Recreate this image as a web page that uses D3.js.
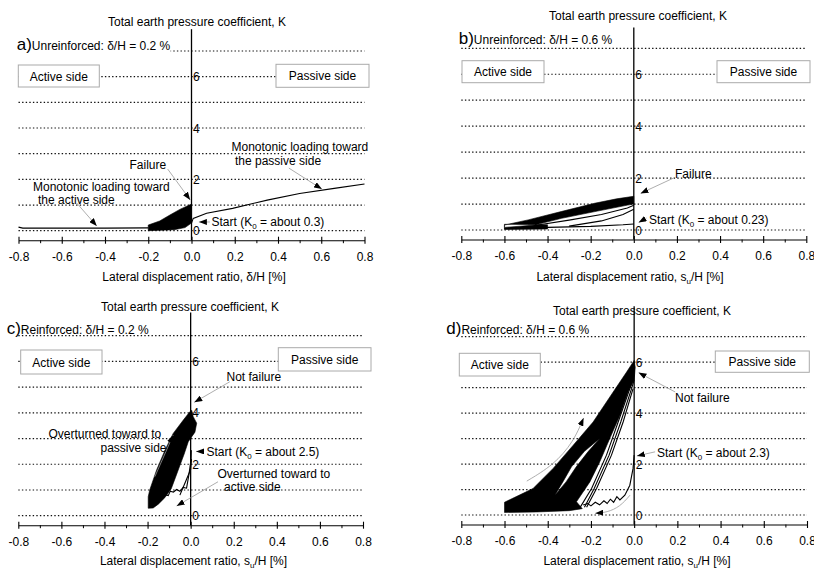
<!DOCTYPE html>
<html>
<head>
<meta charset="utf-8">
<script src="https://cdn.jsdelivr.net/npm/d3@7"></script>
<style>
  body { margin: 0; background: #fff; }
  svg { display: block; font-family: "Liberation Sans", Arial, sans-serif; }
</style>
</head>
<body>
<svg id="chart" width="814" height="569"></svg>
<script>
// axis values
const xTicks = [-0.8, -0.6, -0.4, -0.2, 0, 0.2, 0.4, 0.6, 0.8];
const xMinorTicks = [-0.7, -0.5, -0.3, -0.1, 0.1, 0.3, 0.5, 0.7];
const kGrid = [0, 1, 2, 3, 4, 5, 6, 7];
const kLabels = [0, 2, 4, 6];
const yTitleText = 'Total earth pressure coefficient, K';
const panelLetters = ['a)', 'b)', 'c)', 'd)'];
const panelNames = ['Unreinforced: δ/H = 0.2 %', 'Unreinforced: δ/H = 0.6 %', 'Reinforced: δ/H = 0.2 %', 'Reinforced: δ/H = 0.6 %'];
const xTitles = ['Lateral displacement ratio, δ/H [%]', 'Lateral displacement ratio, s_u/H [%]', 'Lateral displacement ratio, s_u/H [%]', 'Lateral displacement ratio, s_u/H [%]'];

// a) unreinforced 0.2 %  [displacement ratio, K]
const aActiveMono = [[-0.8, 0.14], [-0.78, 0.1], [-0.6, 0.1], [-0.4, 0.1], [-0.2, 0.11]];
const aPassiveMono = [[0, 0.3], [0.008, 0.48], [0.07, 0.68], [0.19, 0.87], [0.35, 1.19], [0.5, 1.45], [0.66, 1.65], [0.8, 1.82]];
const aBand = [[-0.2, 0.22], [-0.147, 0.38], [-0.1, 0.61], [-0.054, 0.83], [0, 1.04], [0, 0.3], [-0.03, 0.12], [-0.08, 0.04], [-0.2, 0.0]];

// b) unreinforced 0.6 %
const bBand = [[-0.6, 0.19], [-0.49, 0.39], [-0.337, 0.71], [-0.182, 1.03], [-0.08, 1.2], [0, 1.3],
  [0, 1.0], [-0.028, 0.96], [-0.18, 0.71], [-0.335, 0.45], [-0.46, 0.19], [-0.6, 0.1]];
const bStrip = [[-0.6, 0.02], [-0.4, 0.04], [-0.4, 0.2], [-0.6, 0.22]];
const bLoop1 = [[-0.445, 0.19], [-0.3, 0.38], [-0.15, 0.6], [-0.03, 0.85], [0, 0.95]];
const bLoop2 = [[-0.3, 0.15], [-0.15, 0.35], [-0.05, 0.6], [0, 0.8]];
const bStart = [[0, 0.23], [-0.05, 0.2], [-0.2, 0.14], [-0.4, 0.1], [-0.6, 0.06]];

// c) reinforced 0.2 %
const cBand = [[-0.197, 0.29], [-0.197, 0.74], [-0.19, 1.0], [-0.158, 1.78], [-0.119, 2.55], [-0.081, 3.2], [-0.034, 3.72], [-0.003, 4.05], [0.005, 4.1],
  [0.012, 3.85], [0.028, 3.6], [0.02, 3.25], [-0.011, 2.88], [-0.03, 2.4], [-0.05, 1.95], [-0.07, 1.5], [-0.09, 1.05], [-0.12, 0.7], [-0.15, 0.45], [-0.174, 0.3]];
const cStart = [[0.003, 2.55], [0.002, 2.2], [-0.008, 1.6], [-0.019, 1.07], [-0.035, 1.1], [-0.05, 0.95], [-0.065, 1.02], [-0.08, 0.92], [-0.095, 0.95],
  [-0.104, 0.78], [-0.12, 0.82], [-0.135, 0.66], [-0.15, 0.7], [-0.165, 0.5], [-0.19, 0.35]];
const cLoop = [[0.004, 2.2], [0, 1.8], [-0.02, 1.4], [-0.035, 1.1], [-0.05, 0.8]];

// d) reinforced 0.6 %
const dBand = [[-0.6, 0.5], [-0.468, 1.04], [-0.375, 1.83], [-0.282, 2.74], [-0.19, 3.65], [-0.097, 4.83], [-0.035, 5.61], [0, 6.07],
  [0.005, 5.8], [0, 5.3], [-0.028, 4.83], [-0.066, 3.91], [-0.113, 3.0], [-0.159, 2.09], [-0.205, 1.3], [-0.267, 0.52],
  [-0.24, 0.25], [-0.3, 0.17], [-0.45, 0.12], [-0.6, 0.1]];
const dHole = [[-0.367, 0.78], [-0.33, 1.3], [-0.29, 1.89], [-0.23, 2.5], [-0.159, 3.0], [-0.212, 2.5], [-0.268, 1.89], [-0.315, 1.3]];
const dLine1 = [[-0.25, 0.3], [-0.197, 1.04], [-0.128, 2.35], [-0.074, 3.65], [-0.02, 4.96], [0, 5.5]];
const dLine2 = [[-0.23, 0.3], [-0.185, 1.04], [-0.116, 2.35], [-0.062, 3.65], [-0.012, 4.96], [0, 5.3]];
const dLine3 = [[-0.22, 0.3], [-0.174, 1.04], [-0.105, 2.35], [-0.051, 3.65], [-0.005, 4.96]];
const dStart = [[0, 2.35], [-0.005, 1.83], [-0.02, 1.17], [-0.043, 0.78], [-0.066, 0.59], [-0.08, 0.72], [-0.095, 0.5], [-0.11, 0.62],
  [-0.125, 0.45], [-0.14, 0.56], [-0.16, 0.4], [-0.18, 0.5], [-0.2, 0.36], [-0.215, 0.45], [-0.236, 0.39]];

// panel layout (pixel frames, boxes, annotation text)
const panels = [
  {
    x0: 18.5, x1: 364.5, k0: 230.7, k7: 51, kTop: 7.85,
    yTitle: [197, 26], label: [16.7, 49.5], xTitle: [194, 281], maskLabel: true,
    active: [18.3, 65, 81, 22], passive: [276, 64.3, 93, 23],
    bands: [aBand], lines: [aActiveMono, aPassiveMono],
    leaders: [[[-0.531, 1.08], [-0.438, 0.18]], [[-0.11, 2.4], [-0.006, 1.2]], [[0.45, 2.44], [0.603, 1.62]], [[0.085, 0.34], [0.034, 0.34]]],
    notes: [['Monotonic loading toward', 33, 191], ['the active side', 38, 203.5], ['Failure', 129.5, 169],
      ['Monotonic loading toward', 231.5, 150.5], ['the passive side', 235, 164.5], ['Start (K_0 = about 0.3)', 211.5, 226]]
  },
  {
    x0: 461.3, x1: 806.3, k0: 230, k7: 48.3, kTop: 7.8,
    yTitle: [638, 19.5], label: [458.7, 43.5], xTitle: [630, 281],
    active: [462, 60.7, 82, 22], passive: [717, 60.7, 93, 22],
    bands: [bBand, bStrip], lines: [bLoop1, bLoop2, bStart],
    leaders: [[[0.184, 2.0], [0.031, 1.41]], [[0.059, 0.46], [0.022, 0.29]]],
    notes: [['Failure', 675, 177.5], ['Start (K_0 = about 0.23)', 649, 224]]
  },
  {
    x0: 18.3, x1: 363, k0: 515.7, k7: 335.7, kTop: 7.9,
    yTitle: [190, 311], label: [6.7, 333.5], xTitle: [193.5, 565],
    active: [20.7, 350, 81.3, 24], passive: [278.3, 347.7, 92.7, 23.3],
    bands: [cBand], lines: [cStart, cLoop],
    leaders: [[[0.182, 5.21], [0.017, 4.41]], [[-0.166, 1.52], [-0.081, 3.14]], [[0.062, 2.5], [0.025, 2.5]], [[0.127, 1.32], [-0.065, 0.38]]],
    notes: [['Not failure', 226.5, 381], ['Overturned toward to', 48.5, 437.5], ['passive side', 100.5, 451.5],
      ['Start (K_0 = about 2.5)', 206.5, 456], ['Overturned toward to', 217.5, 478], ['active side', 224, 491]]
  },
  {
    x0: 461.3, x1: 807, k0: 515, k7: 336.7, kTop: 8.2,
    yTitle: [642, 315], label: [446.3, 333.5], xTitle: [637, 565],
    active: [459.3, 353.3, 81, 22.7], passive: [715.3, 351, 94, 21.3],
    bands: [dBand, dHole], lines: [dLine1, dLine2, dLine3, dStart],
    leaders: [[[0.19, 4.83], [0.02, 5.59]], [[0.097, 2.48], [0.0125, 2.32]],
      [[-0.497, 1.33], [-0.373, 1.96], [-0.281, 2.87], [-0.234, 3.81]],
      [[-0.019, 0.78], [-0.065, 0.33], [-0.126, 0.1], [-0.18, 0.07]]],
    notes: [['Not failure', 675, 402], ['Start (K_0 = about 2.3)', 657, 456.5]]
  }
];

const svg = d3.select('#chart');

svg.append('defs').append('marker')
  .attr('id', 'arrow')
  .attr('viewBox', '0 0 8 6')
  .attr('refX', 8).attr('refY', 3)
  .attr('markerWidth', 8).attr('markerHeight', 6)
  .attr('markerUnits', 'userSpaceOnUse')
  .attr('orient', 'auto')
  .append('path').attr('d', 'M0,0L8,3L0,6Z').attr('fill', '#000');

// writes "K_0" style text with a subscript
function richText(sel, str) {
  const parts = str.split(/_(\w)/);
  parts.forEach(function(p, i) {
    if (i % 2 === 1) {
      sel.append('tspan').attr('dy', 3).attr('font-size', 8).text(p);
    } else if (p) {
      sel.append('tspan').attr('dy', i > 0 ? -3 : 0).text(p);
    }
  });
}

panels.forEach(function(p, i) {
  const x = d3.scaleLinear().domain([-0.8, 0.8]).range([p.x0, p.x1]);
  const y = d3.scaleLinear().domain([0, 7]).range([p.k0, p.k7]);
  const axisY = p.k0 + 9.5;
  const g = svg.append('g');

  const line = d3.line().x(d => x(d[0])).y(d => y(d[1]));

  // dotted grid
  g.selectAll('.grid')
    .data(kGrid)
    .enter()
    .append('line')
    .attr('x1', x(-0.8)).attr('x2', x(0.8))
    .attr('y1', d => y(d)).attr('y2', d => y(d))
    .attr('stroke', '#111')
    .attr('stroke-width', 1.2)
    .attr('stroke-dasharray', '1.4,2.2');

  // side boxes
  [['Active side', p.active], ['Passive side', p.passive]].forEach(function(b) {
    const r = b[1];
    g.append('rect')
      .attr('x', r[0]).attr('y', r[1]).attr('width', r[2]).attr('height', r[3])
      .attr('fill', '#fff').attr('stroke', '#aaa').attr('stroke-width', 1);
    g.append('text')
      .attr('x', r[0] + r[2] / 2).attr('y', r[1] + r[3] / 2 + 4.5)
      .attr('text-anchor', 'middle').attr('font-size', 12)
      .text(b[0]);
  });

  // panel label
  const lab = g.append('text').attr('x', p.label[0]).attr('y', p.label[1]);
  lab.append('tspan').attr('font-size', 17).text(panelLetters[i]);
  lab.append('tspan').attr('font-size', 12).text(panelNames[i]);
  if (p.maskLabel) {
    const bb = lab.node().getBBox();
    g.insert('rect', 'text')
      .attr('x', bb.x).attr('y', bb.y).attr('width', bb.width).attr('height', bb.height + 2)
      .attr('fill', '#fff');
  }

  // x axis
  const xAxis = g.append('g').attr('transform', 'translate(0,' + axisY + ')')
    .call(d3.axisBottom(x).tickValues(xTicks).tickSize(3.5).tickSizeOuter(0).tickPadding(8.5)
      .tickFormat(d => d.toFixed(1)));
  xAxis.attr('font-family', null).attr('font-size', 12);
  xAxis.select('.domain').attr('stroke-width', 1.1);
  xAxis.selectAll('.tick line').attr('y1', -3.5).attr('stroke-width', 1.1);
  xAxis.selectAll('.tick text').attr('fill', '#000');
  g.append('g').attr('transform', 'translate(0,' + axisY + ')')
    .call(d3.axisBottom(x).tickValues(xMinorTicks).tickSize(3).tickFormat(''))
    .call(s => s.select('.domain').remove());

  // vertical K axis through zero displacement
  g.append('line')
    .attr('x1', x(0)).attr('x2', x(0))
    .attr('y1', axisY).attr('y2', y(p.kTop))
    .attr('stroke', '#000').attr('stroke-width', 1.3);
  g.selectAll('.klab')
    .data(kLabels)
    .enter()
    .append('text')
    .attr('x', x(0) + 1.5).attr('y', d => y(d) + 4.5)
    .attr('font-size', 12)
    .text(d => d);

  // titles
  g.append('text')
    .attr('x', p.yTitle[0]).attr('y', p.yTitle[1])
    .attr('text-anchor', 'middle').attr('font-size', 12)
    .text(yTitleText);
  g.append('text')
    .attr('x', p.xTitle[0]).attr('y', p.xTitle[1])
    .attr('text-anchor', 'middle').attr('font-size', 12)
    .call(s => richText(s, xTitles[i]));

  // measured loops
  g.append('path')
    .attr('d', p.bands.map(b => line(b) + 'Z').join(''))
    .attr('fill', '#000').attr('fill-rule', 'evenodd')
    .attr('stroke', '#000').attr('stroke-width', 0.6);
  g.selectAll('.curve')
    .data(p.lines)
    .enter()
    .append('path')
    .attr('d', line)
    .attr('fill', 'none').attr('stroke', '#000').attr('stroke-width', 1.1);

  // leaders
  const curved = d3.line().x(d => x(d[0])).y(d => y(d[1])).curve(d3.curveBasis);
  g.selectAll('.leader')
    .data(p.leaders)
    .enter()
    .append('path')
    .attr('d', d => (d.length > 2 ? curved : line)(d))
    .attr('fill', 'none').attr('stroke', '#999').attr('stroke-width', 0.8)
    .attr('marker-end', 'url(#arrow)');

  // annotation text
  p.notes.forEach(function(n) {
    g.append('text')
      .attr('x', n[1]).attr('y', n[2])
      .attr('font-size', 12)
      .call(s => richText(s, n[0]));
  });
});
</script>
</body>
</html>
